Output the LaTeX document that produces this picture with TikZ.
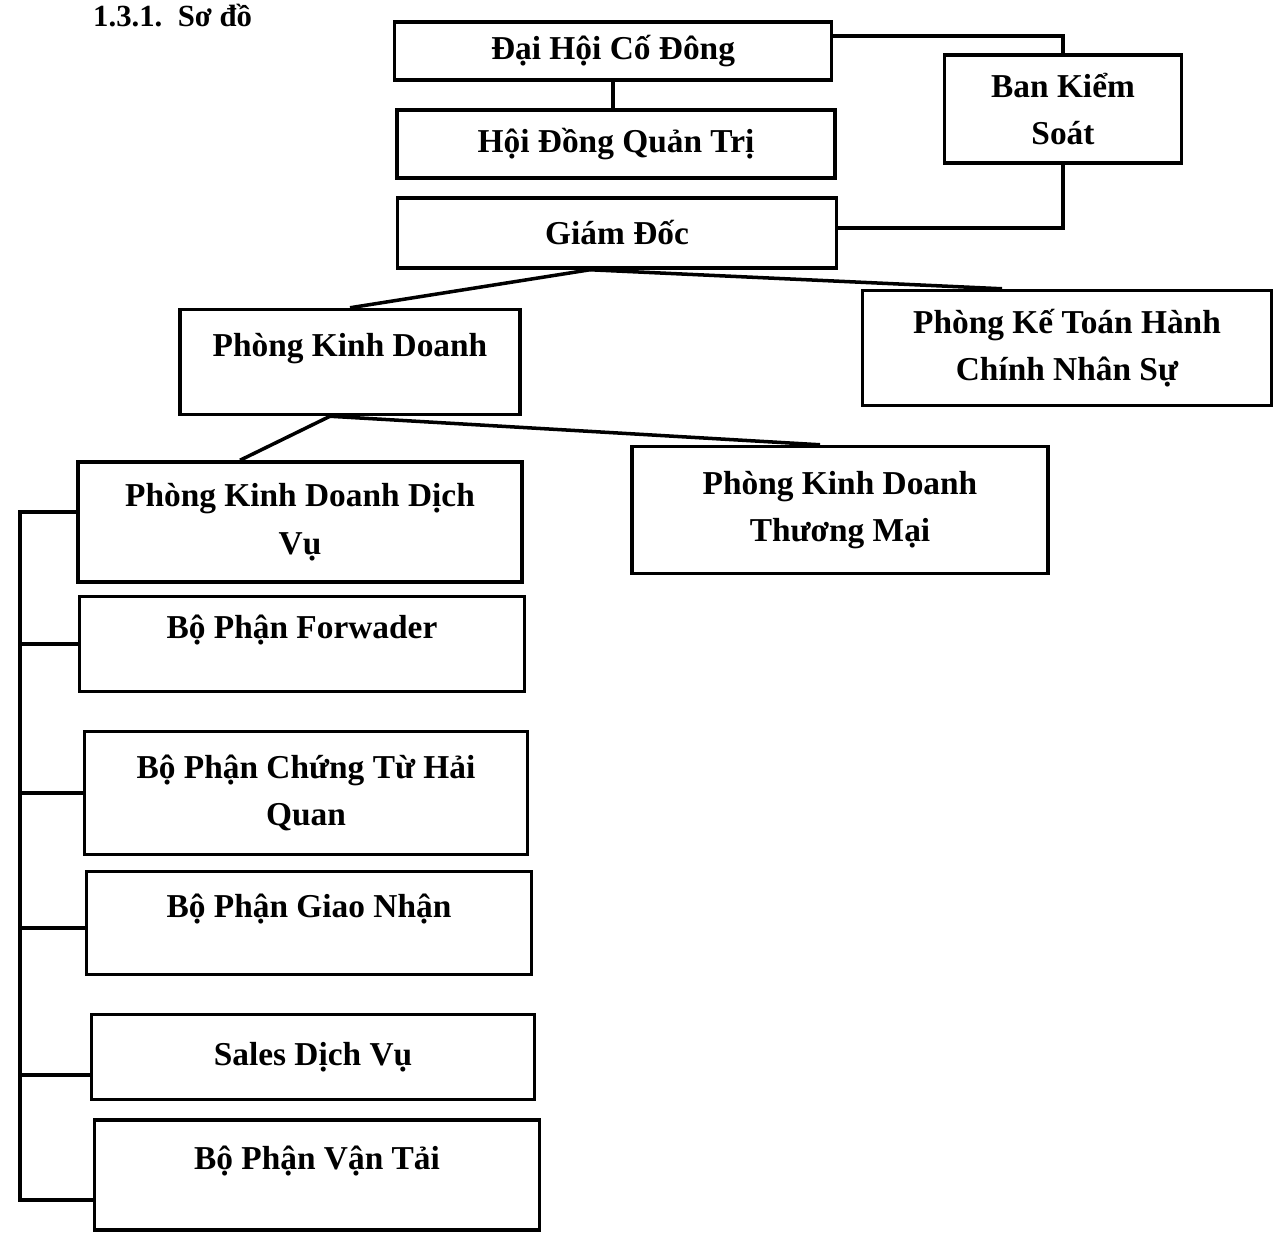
\documentclass[tikz,border=0pt]{standalone}
\usepackage{fontspec}
\setmainfont{Liberation Serif}
\usepackage{tikz}
\usetikzlibrary{positioning, calc}

\tikzset{
  orgbox/.style={draw, line width=2pt, align=center, inner sep=4pt,
    font=\bfseries\fontsize{19}{27}\selectfont},
  raised/.style={text depth=0.7cm},
  link/.style={line width=2pt}
}

\begin{document}
\begin{tikzpicture}[x=0.02cm, y=-0.02cm]
  \useasboundingbox (0,0) rectangle (1274,1232);

  \node[anchor=base west, font=\bfseries\fontsize{17.5}{20}\selectfont] (title) at (87,26) {1.3.1.\ \ Sơ đồ};

  % top levels
  \node[orgbox, minimum width=8.74cm, minimum height=1.16cm] (dhcd) at (613,51) {Đại Hội Cố Đông};
  \node[orgbox, minimum width=8.76cm, minimum height=1.36cm] (hdqt) at (616,144) {Hội Đồng Quản Trị};
  \node[orgbox, minimum width=8.78cm, minimum height=1.4cm] (gd) at (617,233) {Giám Đốc};
  \node[orgbox, minimum width=4.74cm, minimum height=2.16cm] (bks) at (1063,109) {Ban Kiểm\\Soát};

  % phong ban
  \node[orgbox, raised, minimum width=6.8cm, minimum height=2.1cm] (pkd) at (350,362) {Phòng Kinh Doanh};
  \node[orgbox, minimum width=8.18cm, minimum height=2.3cm] (pkt) at (1067,348) {Phòng Kế Toán Hành\\Chính Nhân Sự};
  \node[orgbox, minimum width=8.88cm, minimum height=2.4cm] (pkddv) at (300,522) {Phòng Kinh Doanh Dịch\\Vụ};
  \node[orgbox, minimum width=8.32cm, minimum height=2.54cm] (pkdtm) at (840,510) {Phòng Kinh Doanh\\Thương Mại};

  % bo phan
  \node[orgbox, raised, minimum width=8.9cm, minimum height=1.9cm] (fwd) at (302,644) {Bộ Phận Forwader};
  \node[orgbox, minimum width=8.86cm, minimum height=2.46cm] (ctu) at (306,793) {Bộ Phận Chứng Từ Hải\\Quan};
  \node[orgbox, raised, minimum width=8.9cm, minimum height=2.06cm] (gn) at (309,923) {Bộ Phận Giao Nhận};
  \node[orgbox, minimum width=8.86cm, minimum height=1.7cm] (sales) at (313,1057) {Sales Dịch Vụ};
  \node[orgbox, raised, minimum width=8.9cm, minimum height=2.2cm] (vt) at (317,1175) {Bộ Phận Vận Tải};

  % connectors
  \draw[link] (dhcd.south) -- (dhcd.south |- hdqt.north);
  \draw[link] ([yshift=0.3cm]dhcd.east) -| (bks.north);
  \draw[link] (bks.south) |- ([yshift=0.1cm]gd.east);
  \draw[link] ([xshift=-0.54cm]gd.south) -- (pkd.north);
  \draw[link] ([xshift=-0.54cm]gd.south) -- ([xshift=-1.3cm]pkt.north);
  \draw[link] ([xshift=-0.4cm]pkd.south) -- ([xshift=-1.2cm]pkddv.north);
  \draw[link] ([xshift=-0.4cm]pkd.south) -- ([xshift=-0.4cm]pkdtm.north);

  % left bus
  \coordinate (bus) at (20,0);
  \coordinate (ddvin) at ([yshift=0.2cm]pkddv.west);
  \coordinate (vtin) at ([yshift=-0.5cm]vt.west);
  \draw[link] (ddvin) -- (ddvin -| bus) -- (vtin -| bus) -- (vtin);
  \foreach \n/\dy in {fwd/0, ctu/0, gn/-0.1, sales/-0.36}{
    \coordinate (tmp) at ([yshift=\dy cm]\n.west);
    \draw[link] (tmp) -- (tmp -| bus);
  }
\end{tikzpicture}
\end{document}
